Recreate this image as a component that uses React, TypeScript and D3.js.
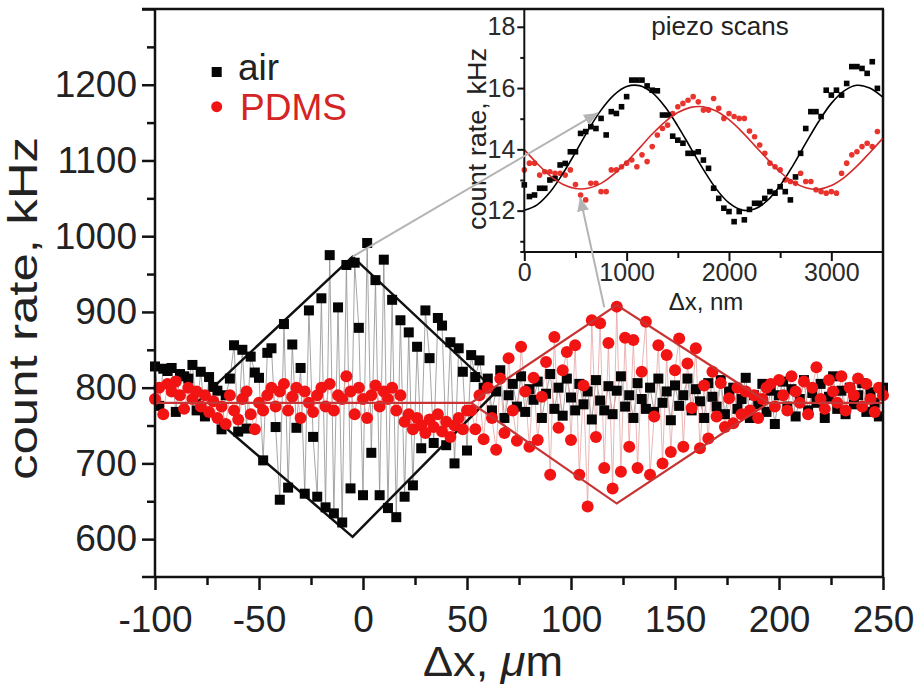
import * as d3 from 'd3';
import React, { useEffect, useRef } from 'react';

const W = 915;
const H = 685;

// main scan: count rate vs lateral position, sampled every 2 um from -100 um
const SCAN_START = -100;
const SCAN_STEP = 2;

const airCounts = [
  828, 776, 825, 822, 826, 768, 818, 815, 812, 830, 770, 821, 762, 814, 801,
  796, 745, 790, 812, 856, 742, 850, 746, 841, 820, 813, 704, 846, 852, 748, 652,
  884, 668, 857, 747, 826, 660, 902, 735, 656, 918, 642, 975, 634, 906, 622, 962,
  667, 965, 879, 658, 991, 714, 942, 658, 969, 641, 916, 629, 889, 656, 873, 671,
  854, 720, 902, 839, 727, 892, 882, 724, 860, 700, 852, 821, 717, 843, 814, 836,
  800, 812, 770, 795, 823, 760, 790, 805, 775, 815,
  768, 798, 784, 808, 760, 792, 818, 772, 800, 763,
  812, 787, 770, 805, 778, 795, 758, 810, 783, 770,
  802, 765, 796, 815, 775, 790, 760, 806, 785, 772,
  800, 768, 812, 780, 795, 757, 803, 776, 790, 812,
  770, 798, 782, 760, 806, 788, 775, 810, 765, 795,
  800, 772, 785, 813, 760, 790, 778, 805, 768, 796,
  752, 790, 808, 775, 798, 762, 785, 810, 770, 793,
  780, 805, 760, 788, 815, 772, 796, 765, 800, 778,
  790, 806, 768, 794, 780, 762, 800,
];

const pdmsCounts = [
  785, 800, 765, 805, 795, 808, 790, 772, 800, 785,
  795, 775, 790, 768, 782, 760, 775, 752, 790, 770,
  758, 785, 795, 765, 745, 780, 770, 790, 800, 775,
  795, 805, 770, 788, 800, 760, 795, 780, 768, 790,
  800, 775, 805, 770, 790, 785, 815, 795, 765, 800,
  785, 760, 790, 803, 775, 795, 785, 800, 770, 790,
  755, 765, 745, 760, 750, 740, 758, 748, 765, 742,
  755, 735, 750, 760, 745, 770,
  770, 745, 790, 732, 800, 760, 718, 812, 740, 839,
  770, 730, 854, 795, 722, 813, 731, 788, 834, 685,
  867, 747, 823, 847, 731, 856, 685, 803, 643, 889,
  735, 885, 694, 859, 667, 907, 689, 866, 722, 863,
  694, 821, 887, 685, 762, 856, 700, 843, 715, 823,
  865, 722, 832, 773, 852, 720, 803, 733, 821, 762,
  806, 748, 786, 753, 800, 765, 795, 770, 790, 760,
  785, 800,
  805, 775, 810, 790, 770, 815, 795, 780, 808, 765,
  800, 827, 785, 772, 810, 795, 780, 815, 770, 800,
  790, 812, 775, 805, 785, 768, 800, 790,
];

// envelope / guide lines drawn over the scans [um, kHz]
const airEnvelope = [[-80, 780], [-5, 973], [64, 795], [-5, 603], [-80, 780]];
const pdmsEnvelope = [[52, 780], [122, 909], [195, 780], [122, 647], [52, 780]];
const pdmsLevelLeft = [[-100, 780], [52, 780]];
const pdmsLevelRight = [[195, 780], [250, 780]];

const xTicksMain = [-100, -50, 0, 50, 100, 150, 200, 250];
const xMinorMain = [-75, -25, 25, 75, 125, 175, 225];
const yTicksMain = [600, 700, 800, 900, 1000, 1100, 1200, 1300];
const yMinorMain = [650, 750, 850, 950, 1050, 1150, 1250];

// inset: piezo scans, every 50 nm
const PIEZO_STEP = 50;
const airPiezo = [
  12.84, 12.46, 12.51, 12.73, 12.73, 13.0, 13.05, 13.49, 13.54, 13.92,
  13.92, 14.52, 14.58, 14.74, 14.68, 15.01, 14.47, 15.23, 15.17, 15.39,
  15.72, 16.26, 16.26, 16.26, 16.07, 15.93, 15.91, 15.12, 15.12, 14.43,
  14.3, 14.2, 13.87, 13.87, 13.92, 13.65, 13.38, 12.73, 12.4, 12.08,
  11.97, 11.64, 11.97, 11.7, 12.04, 12.24, 12.24, 12.4, 12.62, 12.57,
  12.78, 12.62, 12.35, 13.1, 13.87, 14.68, 15.23, 15.23, 15.07, 15.93,
  15.77, 15.93, 15.77, 16.15, 16.7, 16.7, 16.64, 16.48, 16.86, 15.99,
];
const pdmsPiezo = [
  13.33, 13.55, 13.55, 13.16, 13.27, 13.27, 13.22, 13.22, 13.16, 13.33,
  12.85, 12.51, 12.35, 12.89, 12.89, 12.62, 12.62, 13.33, 13.33, 13.43,
  13.55, 13.65, 13.43, 13.82, 13.6, 14.09, 14.47, 14.68, 14.79, 15.17,
  15.39, 15.5, 15.6, 15.72, 15.55, 15.28, 15.28, 15.66, 15.34, 15.01,
  15.17, 15.07, 15.01, 15.01, 14.6, 14.41, 14.14, 13.87, 13.55, 13.43,
  13.33, 13.0, 12.95, 12.89, 13.22, 12.95, 12.95, 12.68, 12.62, 12.57,
  12.62, 12.57, 13.22, 13.55, 13.82, 13.92, 14.09, 14.2, 14.09, 14.58,
];

// fitted curves, every 125 nm
const FIT_STEP = 125;
const airFit = [
  12.01, 12.19, 12.6, 13.2, 13.9, 14.63, 15.28, 15.77, 16.05, 16.08,
  15.85, 15.39, 14.76, 14.05, 13.34, 12.71, 12.25, 12.02, 12.05, 12.33,
  12.82, 13.47, 14.2, 14.9, 15.5, 15.91, 16.09, 16.0, 15.71,
];
const pdmsFit = [
  13.99, 13.54, 13.14, 12.86, 12.72, 12.73, 12.89, 13.19, 13.59, 14.04,
  14.5, 14.9, 15.2, 15.37, 15.39, 15.25, 14.97, 14.58, 14.13, 13.68,
  13.26, 12.94, 12.75, 12.7, 12.82, 13.08, 13.45, 13.89, 14.35,
];

const insetXTicks = [0, 1000, 2000, 3000];
const insetXMinor = [500, 1500, 2500, 3500];
const insetYTicks = [12, 14, 16, 18];
const insetYMinor = [11, 13, 15, 17];

const FONT = "'Liberation Sans', Arial, sans-serif";
const TXT = '#222';
const RED = '#f21313';
const RED_LINE = '#c83434';

function drawChart(node) {
  const svg = d3.select(node);
  svg.selectAll('*').remove();
  svg.attr('font-family', FONT);

  const x = d3.scaleLinear().domain([-100, 250]).range([155, 883]);
  const y = d3.scaleLinear().domain([550, 1300]).range([577, 9]);

  const air = airCounts.map((v, i) => ({ x: SCAN_START + i * SCAN_STEP, y: v }));
  const pdms = pdmsCounts.map((v, i) => ({ x: SCAN_START + i * SCAN_STEP, y: v }));

  const line = d3.line().x(d => x(d.x)).y(d => y(d.y));
  const pairLine = d3.line().x(d => x(d[0])).y(d => y(d[1]));

  // thin connecting lines
  svg.append('path').datum(air).attr('d', line)
    .attr('fill', 'none').attr('stroke', '#8e8e8e').attr('stroke-width', 0.8);
  svg.append('path').datum(pdms).attr('d', line)
    .attr('fill', 'none').attr('stroke', '#e3a3a3').attr('stroke-width', 0.8);

  svg.append('path').datum(airEnvelope).attr('d', pairLine)
    .attr('fill', 'none').attr('stroke', '#111').attr('stroke-width', 2.5);

  svg.append('g').selectAll('rect').data(air).join('rect')
    .attr('x', d => x(d.x) - 5).attr('y', d => y(d.y) - 5)
    .attr('width', 10).attr('height', 10).attr('fill', '#050505');

  svg.append('g').selectAll('circle').data(pdms).join('circle')
    .attr('cx', d => x(d.x)).attr('cy', d => y(d.y))
    .attr('r', 6).attr('fill', RED);

  [pdmsEnvelope, pdmsLevelLeft, pdmsLevelRight].forEach(seg => {
    svg.append('path').datum(seg).attr('d', pairLine)
      .attr('fill', 'none').attr('stroke', RED_LINE).attr('stroke-width', 2.2);
  });

  // main axes
  const styleAxis = (g, fs) => {
    g.select('.domain').remove();
    g.selectAll('line').attr('stroke', '#111').attr('stroke-width', 2.5);
    g.selectAll('text').attr('font-size', fs).attr('font-family', FONT).attr('fill', TXT);
  };

  svg.append('g').attr('transform', `translate(0,${y(550)})`)
    .call(d3.axisBottom(x).tickValues(xTicksMain).tickSize(13).tickPadding(16).tickFormat(d => String(d)))
    .call(g => styleAxis(g, 37));
  svg.append('g').attr('transform', `translate(0,${y(550)})`)
    .call(d3.axisBottom(x).tickValues(xMinorMain).tickSize(8).tickFormat(() => ''))
    .call(g => styleAxis(g, 37));
  svg.append('g').attr('transform', `translate(${x(-100)},0)`)
    .call(d3.axisLeft(y).tickValues(yTicksMain).tickSize(13).tickPadding(5)
      .tickFormat(d => (d === 1300 ? '' : String(d))))
    .call(g => styleAxis(g, 37));
  svg.append('g').attr('transform', `translate(${x(-100)},0)`)
    .call(d3.axisLeft(y).tickValues(yMinorMain).tickSize(8).tickFormat(() => ''))
    .call(g => styleAxis(g, 37));

  const frame = svg.append('g').attr('stroke', '#111').attr('stroke-width', 2.5);
  frame.append('line').attr('x1', x(-100) - 13).attr('x2', x(250) + 1).attr('y1', y(550)).attr('y2', y(550));
  frame.append('line').attr('x1', x(-100) - 13).attr('x2', x(250) + 1).attr('y1', y(1300)).attr('y2', y(1300));
  frame.append('line').attr('x1', x(-100)).attr('x2', x(-100)).attr('y1', y(1300)).attr('y2', y(550));
  frame.append('line').attr('x1', x(250)).attr('x2', x(250)).attr('y1', y(1300)).attr('y2', y(550));

  svg.append('text')
    .attr('transform', `translate(37,308.5) rotate(-90)`)
    .attr('text-anchor', 'middle').attr('font-size', 40).attr('fill', TXT)
    .attr('textLength', 343).attr('lengthAdjust', 'spacingAndGlyphs')
    .text('count rate, kHz');

  const xt = svg.append('text')
    .attr('x', 493).attr('y', 676).attr('text-anchor', 'middle')
    .attr('font-size', 42).attr('fill', TXT)
    .attr('textLength', 140).attr('lengthAdjust', 'spacingAndGlyphs');
  xt.append('tspan').text('\u0394x, ');
  xt.append('tspan').attr('font-style', 'italic').text('\u03bc');
  xt.append('tspan').text('m');

  // legend
  svg.append('rect').attr('x', 211.7).attr('y', 67).attr('width', 10).attr('height', 10).attr('fill', '#050505');
  svg.append('text').attr('x', 238).attr('y', 80).attr('font-size', 37).attr('fill', TXT).text('air');
  svg.append('circle').attr('cx', 216.7).attr('cy', 106.7).attr('r', 5.5).attr('fill', RED);
  svg.append('text').attr('x', 240).attr('y', 119.5).attr('font-size', 37).attr('fill', '#d42424').text('PDMS');

  // inset
  const ix = d3.scaleLinear().domain([0, 3500]).range([524.3, 882.5]);
  const iy = d3.scaleLinear().domain([10.65, 18.58]).range([252, 9]);

  const airP = airPiezo.map((v, i) => ({ x: i * PIEZO_STEP, y: v }));
  const pdmsP = pdmsPiezo.map((v, i) => ({ x: i * PIEZO_STEP, y: v }));
  const fitLine = d3.line().curve(d3.curveCatmullRom)
    .x((d, i) => ix(i * FIT_STEP)).y(d => iy(d));

  svg.append('g').selectAll('circle').data(pdmsP).join('circle')
    .attr('cx', d => ix(d.x)).attr('cy', d => iy(d.y)).attr('r', 2.8).attr('fill', '#e8342c');
  svg.append('g').selectAll('rect').data(airP).join('rect')
    .attr('x', d => ix(d.x) - 2.8).attr('y', d => iy(d.y) - 2.8)
    .attr('width', 5.6).attr('height', 5.6).attr('fill', '#050505');

  svg.append('path').datum(airFit).attr('d', fitLine)
    .attr('fill', 'none').attr('stroke', '#000').attr('stroke-width', 1.6);
  svg.append('path').datum(pdmsFit).attr('d', fitLine)
    .attr('fill', 'none').attr('stroke', '#d42a2a').attr('stroke-width', 1.6);

  const styleInset = (g) => {
    g.select('.domain').remove();
    g.selectAll('line').attr('stroke', '#111').attr('stroke-width', 2);
    g.selectAll('text').attr('font-size', 25).attr('font-family', FONT).attr('fill', '#2a2a2a');
  };
  svg.append('g').attr('transform', `translate(0,${iy(10.65)})`)
    .call(d3.axisBottom(ix).tickValues(insetXTicks).tickSize(9).tickPadding(2).tickFormat(d => String(d)))
    .call(styleInset);
  svg.append('g').attr('transform', `translate(0,${iy(10.65)})`)
    .call(d3.axisBottom(ix).tickValues(insetXMinor).tickSize(6).tickFormat(() => ''))
    .call(styleInset);
  svg.append('g').attr('transform', `translate(${ix(0)},0)`)
    .call(d3.axisLeft(iy).tickValues(insetYTicks).tickSize(7).tickPadding(2).tickFormat(d => String(d)))
    .call(styleInset);
  svg.append('g').attr('transform', `translate(${ix(0)},0)`)
    .call(d3.axisLeft(iy).tickValues(insetYMinor).tickSize(4).tickFormat(() => ''))
    .call(styleInset);

  const iframe = svg.append('g').attr('stroke', '#111').attr('stroke-width', 2);
  iframe.append('line').attr('x1', ix(0) - 4).attr('x2', ix(3500)).attr('y1', iy(10.65)).attr('y2', iy(10.65));
  iframe.append('line').attr('x1', ix(0)).attr('x2', ix(0)).attr('y1', iy(18.58)).attr('y2', iy(10.65));

  svg.append('text').attr('x', 720).attr('y', 35).attr('text-anchor', 'middle')
    .attr('font-size', 26).attr('fill', TXT).text('piezo scans');
  svg.append('text')
    .attr('transform', `translate(486,139) rotate(-90)`)
    .attr('text-anchor', 'middle').attr('font-size', 25).attr('fill', TXT)
    .attr('textLength', 182).attr('lengthAdjust', 'spacingAndGlyphs')
    .text('count rate, kHz');
  svg.append('text').attr('x', 706).attr('y', 310).attr('text-anchor', 'middle')
    .attr('font-size', 24).attr('fill', TXT).text('\u0394x, nm');

  // gray pointers from the scan maxima to the piezo curves
  const defs = svg.append('defs');
  defs.append('marker').attr('id', 'arrowHead')
    .attr('markerUnits', 'userSpaceOnUse').attr('markerWidth', 16).attr('markerHeight', 12)
    .attr('refX', 14).attr('refY', 6).attr('orient', 'auto')
    .append('path').attr('d', 'M0,0 L14,6 L0,12 Z').attr('fill', '#b4b4b4');

  const pointers = [
    { from: [-5, 973], to: [720, 15.19] },
    { from: [116, 906], to: [545, 12.44] },
  ];
  pointers.forEach(p => {
    svg.append('line')
      .attr('x1', x(p.from[0])).attr('y1', y(p.from[1]))
      .attr('x2', ix(p.to[0])).attr('y2', iy(p.to[1]))
      .attr('stroke', '#b4b4b4').attr('stroke-width', 2)
      .attr('marker-end', 'url(#arrowHead)');
  });
}

export default function App() {
  const ref = useRef(null);
  useEffect(() => {
    drawChart(ref.current);
  }, []);
  return (
    <svg
      ref={ref}
      width={W}
      height={H}
      style={{ position: 'absolute', left: 0, top: 0, background: '#fff' }}
    />
  );
}
